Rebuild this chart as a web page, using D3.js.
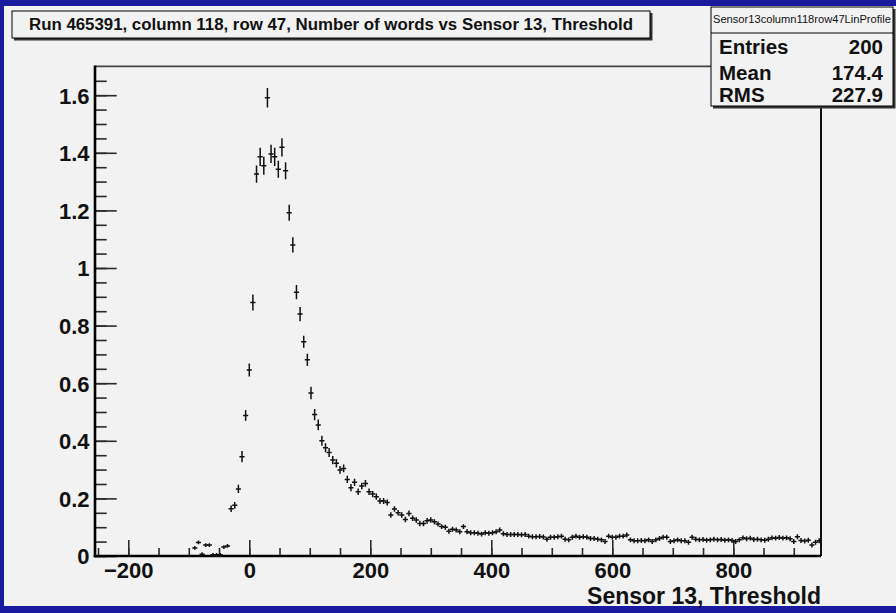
<!DOCTYPE html>
<html>
<head>
<meta charset="utf-8">
<script src="https://cdn.jsdelivr.net/npm/d3@7"></script>
<style>
  html, body { margin: 0; padding: 0; background: #1a1a9e; }
  svg { display: block; }
  text { font-family: "Liberation Sans", Arial, Helvetica, sans-serif; font-weight: bold; }
</style>
</head>
<body>
<svg id="chart" width="896" height="613"></svg>
<script>
// Profile of "Number of words" against Sensor 13 threshold (bin width 6)
const thresholds = [
  -90, -84, -78, -72, -66, -60, -54, -48, -42, -36,
  -30, -24, -18, -12, -6, 0, 6, 12, 18, 24,
  30, 36, 42, 48, 54, 60, 66, 72, 78, 84,
  90, 96, 102, 108, 114, 120, 126, 132, 138, 144,
  150, 156, 162, 168, 174, 180, 186, 192, 198, 204,
  210, 216, 222, 228, 234, 240, 246, 252, 258, 264,
  270, 276, 282, 288, 294, 300, 306, 312, 318, 324,
  330, 336, 342, 348, 354, 360, 366, 372, 378, 384,
  390, 396, 402, 408, 414, 420, 426, 432, 438, 444,
  450, 456, 462, 468, 474, 480, 486, 492, 498, 504,
  510, 516, 522, 528, 534, 540, 546, 552, 558, 564,
  570, 576, 582, 588, 594, 600, 606, 612, 618, 624,
  630, 636, 642, 648, 654, 660, 666, 672, 678, 684,
  690, 696, 702, 708, 714, 720, 726, 732, 738, 744,
  750, 756, 762, 768, 774, 780, 786, 792, 798, 804,
  810, 816, 822, 828, 834, 840, 846, 852, 858, 864,
  870, 876, 882, 888, 894, 900, 906, 912, 918, 924,
  930, 936, 942
];

const meanWords = [
  0.028, 0.047, 0.006, 0.038, 0.038, 0.004, 0.004, 0.004, 0.031, 0.035,
  0.164, 0.176, 0.233, 0.345, 0.488, 0.646, 0.880, 1.326, 1.386, 1.355,
  1.591, 1.396, 1.386, 1.343, 1.419, 1.338, 1.192, 1.080, 0.916, 0.840,
  0.744, 0.681, 0.566, 0.491, 0.455, 0.400, 0.376, 0.359, 0.333, 0.322,
  0.299, 0.304, 0.266, 0.237, 0.256, 0.223, 0.243, 0.252, 0.223, 0.215,
  0.206, 0.191, 0.191, 0.186, 0.142, 0.163, 0.150, 0.142, 0.127, 0.148,
  0.131, 0.125, 0.113, 0.113, 0.122, 0.125, 0.119, 0.111, 0.102, 0.100,
  0.086, 0.093, 0.090, 0.084, 0.102, 0.084, 0.081, 0.081, 0.079, 0.076,
  0.081, 0.079, 0.081, 0.084, 0.090, 0.077, 0.075, 0.075, 0.075, 0.075,
  0.074, 0.075, 0.069, 0.067, 0.067, 0.068, 0.066, 0.058, 0.065, 0.065,
  0.067, 0.069, 0.058, 0.056, 0.065, 0.069, 0.065, 0.067, 0.065, 0.061,
  0.061, 0.058, 0.056, 0.050, 0.069, 0.065, 0.065, 0.069, 0.069, 0.073,
  0.056, 0.053, 0.053, 0.054, 0.053, 0.056, 0.050, 0.056, 0.061, 0.065,
  0.065, 0.050, 0.053, 0.056, 0.053, 0.053, 0.048, 0.065, 0.058, 0.056,
  0.057, 0.055, 0.056, 0.058, 0.056, 0.057, 0.055, 0.056, 0.054, 0.050,
  0.056, 0.063, 0.060, 0.062, 0.057, 0.058, 0.056, 0.055, 0.058, 0.063,
  0.062, 0.064, 0.062, 0.063, 0.060, 0.050, 0.067, 0.054, 0.052, 0.055,
  0.038, 0.048, 0.053
];

const errWords = [
  0.004, 0.004, 0.004, 0.004, 0.004, 0.004, 0.004, 0.004, 0.004, 0.004,
  0.009, 0.009, 0.012, 0.017, 0.016, 0.020, 0.025, 0.027, 0.029, 0.029,
  0.031, 0.029, 0.029, 0.027, 0.029, 0.027, 0.025, 0.024, 0.022, 0.022,
  0.018, 0.019, 0.019, 0.017, 0.016, 0.015, 0.013, 0.013, 0.012, 0.012,
  0.011, 0.011, 0.010, 0.010, 0.010, 0.009, 0.009, 0.009, 0.009, 0.008,
  0.008, 0.008, 0.008, 0.008, 0.007, 0.007, 0.007, 0.007, 0.007, 0.007,
  0.007, 0.007, 0.007, 0.007, 0.007, 0.007, 0.006, 0.006, 0.006, 0.006,
  0.006, 0.006, 0.006, 0.006, 0.006, 0.006, 0.006, 0.006, 0.006, 0.006,
  0.006, 0.006, 0.006, 0.006, 0.006, 0.006, 0.006, 0.006, 0.006, 0.006,
  0.006, 0.006, 0.006, 0.006, 0.006, 0.006, 0.006, 0.006, 0.006, 0.006,
  0.006, 0.006, 0.006, 0.006, 0.006, 0.006, 0.006, 0.006, 0.006, 0.006,
  0.006, 0.006, 0.006, 0.006, 0.006, 0.006, 0.006, 0.006, 0.006, 0.006,
  0.006, 0.006, 0.006, 0.006, 0.006, 0.006, 0.006, 0.006, 0.006, 0.006,
  0.006, 0.006, 0.006, 0.006, 0.006, 0.006, 0.006, 0.006, 0.006, 0.006,
  0.006, 0.006, 0.006, 0.006, 0.006, 0.006, 0.006, 0.006, 0.006, 0.006,
  0.006, 0.006, 0.006, 0.006, 0.006, 0.006, 0.006, 0.006, 0.006, 0.006,
  0.006, 0.006, 0.006, 0.006, 0.006, 0.006, 0.006, 0.006, 0.006, 0.006,
  0.006, 0.006, 0.006
];

const binHalfWidth = 3;
const xDomain = [-255, 945];
const yDomain = [0, 1.7];
const xMajorTicks = [-200, 0, 200, 400, 600, 800];
const xMinorTicks = d3.range(-250, 945, 50);
const yMajorTicks = [0, 0.2, 0.4, 0.6, 0.8, 1, 1.2, 1.4, 1.6];
const yMinorTicks = d3.range(0, 1.7, 0.05);

const titleText = "Run 465391, column 118, row 47, Number of words vs Sensor 13, Threshold";
const statsName = "Sensor13column118row47LinProfile";
const statsLabels = ["Entries", "Mean", "RMS"];
const statsValues = ["200", "174.4", "227.9"];
const xAxisTitle = "Sensor 13, Threshold";

const svg = d3.select("#chart");
const frame = { left: 95, right: 821, top: 66.4, bottom: 556 };

// pad background
svg.append("rect").attr("x", 4).attr("y", 6).attr("width", 892).attr("height", 600)
  .attr("fill", "#f2f2f2");

const x = d3.scaleLinear().domain(xDomain).range([frame.left, frame.right]);
const y = d3.scaleLinear().domain(yDomain).range([frame.bottom, frame.top]);

// frame top / right
svg.append("line").attr("x1", frame.left).attr("x2", frame.right)
  .attr("y1", frame.top).attr("y2", frame.top)
  .attr("stroke", "#444").attr("stroke-width", 1.6);
svg.append("line").attr("x1", frame.right).attr("x2", frame.right)
  .attr("y1", frame.top).attr("y2", frame.bottom)
  .attr("stroke", "#111").attr("stroke-width", 2);

function styleAxis(g) {
  g.select(".domain").remove();
  g.selectAll(".tick line").attr("stroke", "#2a2a2a").attr("stroke-width", 1.6);
  g.selectAll(".tick text").attr("fill", "#111").style("font-size", "22px");
}

// x axis: minor then major ticks, drawn inward
svg.append("g").attr("transform", `translate(0,${frame.bottom})`)
  .call(d3.axisBottom(x).tickValues(xMinorTicks).tickSize(-8).tickFormat(""))
  .call(styleAxis);
svg.append("g").attr("transform", `translate(0,${frame.bottom})`)
  .call(d3.axisBottom(x).tickValues(xMajorTicks).tickSize(-16).tickPadding(6)
    .tickFormat(d3.format("d")))
  .call(styleAxis);

// y axis
svg.append("g").attr("transform", `translate(${frame.left},0)`)
  .call(d3.axisLeft(y).tickValues(yMinorTicks).tickSize(-11.7).tickFormat(""))
  .call(styleAxis);
svg.append("g").attr("transform", `translate(${frame.left},0)`)
  .call(d3.axisLeft(y).tickValues(yMajorTicks).tickSize(-21.7).tickPadding(5.5)
    .tickFormat(d => String(+d.toFixed(1))))
  .call(styleAxis)
  .selectAll(".tick text").attr("dy", "0.36em");

// axis lines
svg.append("line").attr("x1", frame.left).attr("x2", frame.left)
  .attr("y1", frame.top - 1).attr("y2", frame.bottom + 1.3)
  .attr("stroke", "#000").attr("stroke-width", 2.6);
svg.append("line").attr("x1", frame.left - 1.3).attr("x2", frame.right)
  .attr("y1", frame.bottom).attr("y2", frame.bottom)
  .attr("stroke", "#000").attr("stroke-width", 2.6);

// profile points with error bars
const points = thresholds.map((t, i) => ({ t, v: meanWords[i], e: errWords[i] }));
const marks = svg.append("g").attr("stroke", "#111").attr("stroke-width", 1.5)
  .attr("stroke-linecap", "square").attr("fill", "none");
marks.selectAll("path").data(points).join("path")
  .attr("d", d => {
    const cx = x(d.t), cy = y(d.v);
    return `M${x(d.t - binHalfWidth)},${cy}H${x(d.t + binHalfWidth)}` +
           `M${cx},${y(d.v - d.e)}V${y(d.v + d.e)}`;
  });

// x axis title
svg.append("text").attr("x", frame.right).attr("y", 603.5)
  .attr("text-anchor", "end").attr("fill", "#111").style("font-size", "23px")
  .text(xAxisTitle);

// title box
const tb = { x: 12, y: 11, w: 638, h: 27 };
svg.append("path")
  .attr("d", `M${tb.x + 2},${tb.y + tb.h + 1}H${tb.x + tb.w + 1}V${tb.y + 2}`)
  .attr("stroke", "#333").attr("stroke-width", 3).attr("fill", "none");
svg.append("rect").attr("x", tb.x).attr("y", tb.y).attr("width", tb.w).attr("height", tb.h)
  .attr("fill", "#f2f2f2").attr("stroke", "#000").attr("stroke-width", 1);
svg.append("text").attr("x", tb.x + tb.w / 2).attr("y", tb.y + 19)
  .attr("text-anchor", "middle").attr("fill", "#111").style("font-size", "16px")
  .attr("textLength", 604).attr("lengthAdjust", "spacingAndGlyphs")
  .text(titleText);

// statistics box
const sb = { x: 711, y: 7, w: 182, h: 99 };
svg.append("path")
  .attr("d", `M${sb.x + 2},${sb.y + sb.h + 1}H${sb.x + sb.w + 1}V${sb.y + 2}`)
  .attr("stroke", "#333").attr("stroke-width", 3).attr("fill", "none");
svg.append("rect").attr("x", sb.x).attr("y", sb.y).attr("width", sb.w).attr("height", sb.h)
  .attr("fill", "#f2f2f2").attr("stroke", "#000").attr("stroke-width", 1);
svg.append("line").attr("x1", sb.x).attr("x2", sb.x + sb.w)
  .attr("y1", sb.y + 26).attr("y2", sb.y + 26).attr("stroke", "#000").attr("stroke-width", 1);
svg.append("text").attr("x", sb.x + sb.w / 2).attr("y", sb.y + 16)
  .attr("text-anchor", "middle").attr("fill", "#111").style("font-size", "10px")
  .style("font-weight", "normal")
  .attr("textLength", 178).attr("lengthAdjust", "spacingAndGlyphs")
  .text(statsName);
const rowBaselines = [54, 80, 102];
statsLabels.forEach((lab, i) => {
  svg.append("text").attr("x", sb.x + 8).attr("y", rowBaselines[i])
    .attr("fill", "#111").style("font-size", "20.5px").text(lab);
  svg.append("text").attr("x", 883).attr("y", rowBaselines[i])
    .attr("text-anchor", "end").attr("fill", "#111").style("font-size", "20.5px")
    .text(statsValues[i]);
});
</script>
</body>
</html>
